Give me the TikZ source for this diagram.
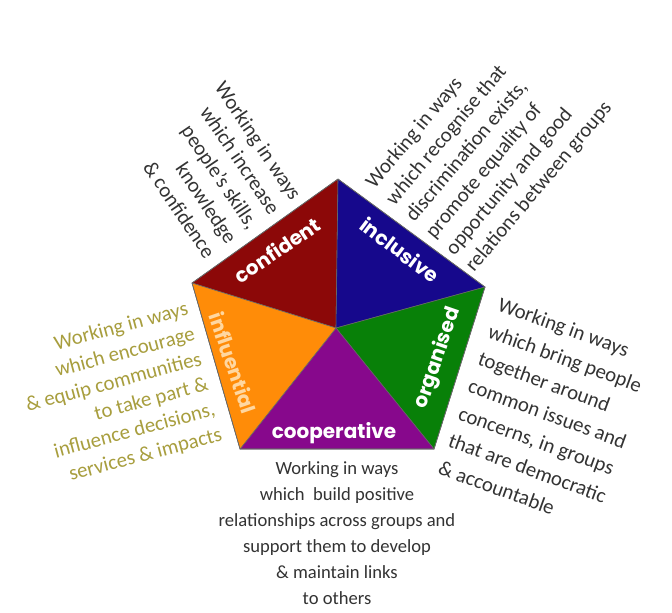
\documentclass[tikz,border=0pt]{standalone}
\usepackage{fontspec}
\setmainfont{Carlito}
\newfontfamily\labelfont{Poppins}
\usetikzlibrary{positioning}

\definecolor{confred}{RGB}{140,8,8}
\definecolor{inclblue}{RGB}{22,8,140}
\definecolor{orggreen}{RGB}{8,128,8}
\definecolor{coopurple}{RGB}{135,8,140}
\definecolor{inflorange}{RGB}{255,140,8}
\definecolor{infltext}{RGB}{168,158,62}
\definecolor{infllabel}{RGB}{255,215,160}

\begin{document}
\begin{tikzpicture}[
    x=0.5pt, y=-0.5pt,
    sector/.style={draw=black!60, line width=0.3pt, line join=round},
    lbl/.style={text=white, inner sep=0pt, font=\labelfont\bfseries\fontsize{10}{12}\selectfont},
    desc/.style={text=black!80, inner sep=0pt, font=\fontsize{10.4}{13}\selectfont}
]

\useasboundingbox[fill=white] (0,0) rectangle (672,612);

% Corners
\coordinate (top) at (338,179);
\coordinate (right) at (485,287);
\coordinate (botright) at (434,449);
\coordinate (botleft) at (240,449);
\coordinate (left) at (192,283);
\coordinate (mid) at (336,328);

% Sectors
\fill[sector, fill=confred] (mid) -- (left) -- (top) -- cycle;
\fill[sector, fill=inclblue] (mid) -- (top) -- (right) -- cycle;
\fill[sector, fill=orggreen] (mid) -- (right) -- (botright) -- cycle;
\fill[sector, fill=coopurple] (mid) -- (botright) -- (botleft) -- cycle;
\fill[sector, fill=inflorange] (mid) -- (botleft) -- (left) -- cycle;
\draw[sector] (top) -- (right) -- (botright) -- (botleft) -- (left) -- cycle;

% Labels
\node[lbl, rotate=34] (confident) at (277,250) {confident};
\node[lbl, rotate=-37] (inclusive) at (400,250) {inclusive};
\node[lbl, rotate=71] (organised) at (438,358) {organised};
\node[lbl] (cooperative) at (334,433) {cooperative};
\node[lbl, rotate=-71, text=infllabel] (influential) at (233,363) {influential};

% Descriptions
\node[desc, rotate=-56, anchor=east, align=right] (confdesc) at (254,227)
    {Working in ways\\ which increase\\ people's skills,\\ knowledge\\ \& confidence};
\node[desc, rotate=50, anchor=west, align=left] (incldesc) at (420,228)
    {Working in ways\\ which recognise that\\ discrimination exists,\\ promote equality of\\ opportunity and good\\ relations between groups};
\node[desc, rotate=-20, anchor=west, align=left, font=\fontsize{10.4}{14.5}\selectfont] (orgdesc) at (469,385)
    {Working in ways\\ which bring people\\ together around\\ common issues and\\ concerns, in groups\\ that are democratic\\ \& accountable};
\node[desc, align=center, font=\fontsize{9.3}{13}\selectfont] (coopdesc) at (337,533)
    {Working in ways\\ which\ \ build positive\\ relationships across groups and\\ support them to develop\\ \& maintain links\\ to others};
\node[desc, rotate=15, anchor=east, align=right, text=infltext] (infldesc) at (205,372)
    {Working in ways\\ which encourage\\ \& equip communities\\ to take part \&\\ influence decisions,\\ services \& impacts};

\end{tikzpicture}
\end{document}
